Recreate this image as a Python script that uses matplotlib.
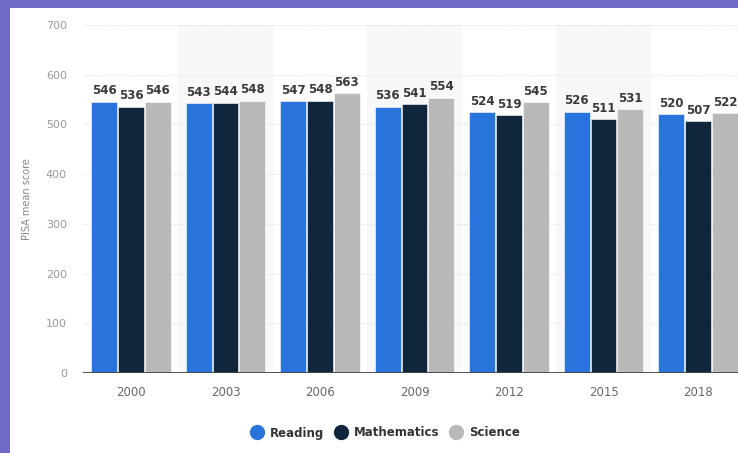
import matplotlib
matplotlib.use("Agg")
import matplotlib.pyplot as plt
from matplotlib.lines import Line2D
import numpy as np

years = ["2000", "2003", "2006", "2009", "2012", "2015", "2018"]
reading = [546, 543, 547, 536, 524, 526, 520]
mathematics = [536, 544, 548, 541, 519, 511, 507]
science = [546, 548, 563, 554, 545, 531, 522]
series_names = ["Reading", "Mathematics", "Science"]
colors = ["#2874dc", "#10263d", "#b9b9b9"]
y_ticks = [0, 100, 200, 300, 400, 500, 600, 700]

W, H = 738, 453
fig = plt.figure(figsize=(W / 100, H / 100), dpi=100)
fig.patch.set_facecolor("#7069c6")
bg = fig.add_axes([10 / W, 0, 1 - 10 / W, 1 - 8 / H], zorder=-10)
bg.set_facecolor("white")
bg.set_xticks([]); bg.set_yticks([])
for s in bg.spines.values():
    s.set_visible(False)

left_px, right_px = 83, 738
top_px, bot_px = 25, 373
ax = fig.add_axes([left_px / W, 1 - bot_px / H, (right_px - left_px) / W,
                   (bot_px - top_px) / H], zorder=1)
ax.set_facecolor("none")

x = np.arange(len(years))
spacing = 94.5
x0 = (left_px - 131) / spacing
x1 = (right_px - 131) / spacing
ax.set_xlim(x0, x1)
ax.set_ylim(0, 700)

# alternating bands
for i in range(len(years)):
    if i % 2 == 1:
        ax.axvspan(i - 0.5, i + 0.5, color="#f8f8f8", zorder=0, lw=0)

# grid
for yt in y_ticks[1:]:
    ax.axhline(yt, color="#dddddd", lw=0.8, ls=(0, (1, 1.5)), zorder=1)

bw = 0.272
data = [reading, mathematics, science]
for k, (vals, c) in enumerate(zip(data, colors)):
    offs = (k - 1) * (bw + 0.012)
    bars = ax.bar(x + offs, vals, width=bw, color=c, edgecolor="white",
                  linewidth=0.4, zorder=2)
    for b, v in zip(bars, vals):
        ax.annotate(str(v), (b.get_x() + b.get_width() / 2, v),
                    xytext=(0, 3), textcoords="offset points",
                    ha="center", va="bottom", fontsize=8.5,
                    fontweight="bold", color="#3a3a3a", zorder=3)

ax.axhline(0, color="#444444", lw=1.3, zorder=3)

for s in ax.spines.values():
    s.set_visible(False)
ax.set_yticks(y_ticks)
ax.set_yticklabels([str(t) for t in y_ticks])
ax.set_xticks(x)
ax.set_xticklabels(years)
ax.tick_params(axis="both", length=0, labelsize=8, colors="#999999")
ax.tick_params(axis="x", pad=9, labelcolor="#666666", labelsize=8.5)
ax.tick_params(axis="y", pad=11.5)
ax.set_ylabel("PISA mean score", fontsize=7, color="#888888")
ax.yaxis.set_label_coords((32 - left_px) / (right_px - left_px), 0.5)

handles = [Line2D([], [], marker="o", ls="none", markersize=10,
                  markerfacecolor=c, markeredgecolor=c) for c in colors]
leg = fig.legend(handles, series_names, loc="center",
                 bbox_to_anchor=(385 / W, 1 - 433 / H), ncol=3, frameon=False,
                 handletextpad=0.5, columnspacing=0.8, handlelength=1.2,
                 prop={"size": 8.5, "weight": "bold"})
for t in leg.get_texts():
    t.set_color("#333333")

fig.savefig("out.png", dpi=100, facecolor=fig.get_facecolor())
